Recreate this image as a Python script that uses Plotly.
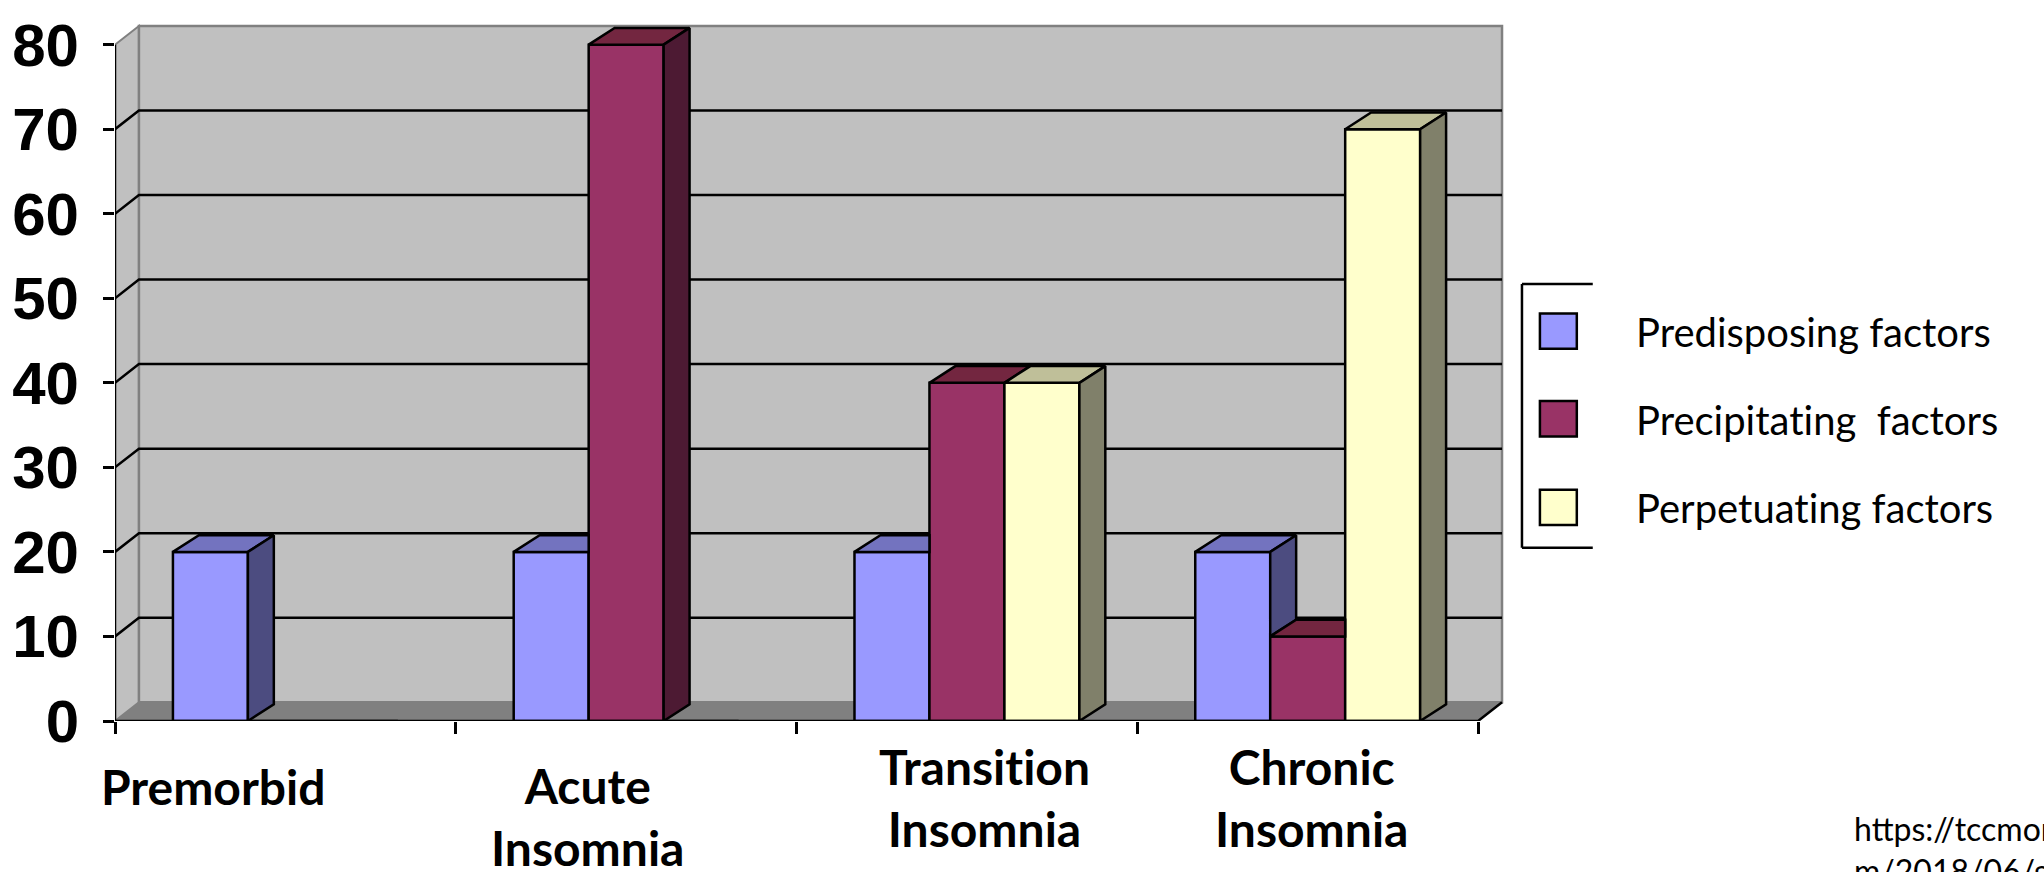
import plotly.graph_objects as go

# ---- data ----
ZWNJ = "\u200c"  # keeps the "ti" pairs from joining into a ligature
categories = ["Premorbid", "Acute<br>Insomnia", f"Transit{ZWNJ}ion<br>Insomnia", "Chronic<br>Insomnia"]
series_names = ["Predisposing factors", "Precipitat" + ZWNJ + "ing\u00a0 factors",
                "Perpetuat" + ZWNJ + "ing factors"]
predisposing = [20, 20, 20, 20]
precipitating = [0, 80, 40, 10]
perpetuating = [0, 0, 40, 70]
y_ticks = [0, 10, 20, 30, 40, 50, 60, 70, 80]

series_values = [predisposing, precipitating, perpetuating]

# ---- styling ----
front_colors = ["#9999FF", "#993366", "#FFFFCC"]
top_colors = ["#7373BF", "#732640", "#BFBF99"]
side_colors = ["#4C4C80", "#4D1A33", "#80806A"]
WALL_COLOR = "#C0C0C0"
FLOOR_COLOR = "#808080"
EDGE = 2.5

W, H = 2044, 872
PLOT_L, PLOT_R, PLOT_T, PLOT_B = 111, 1510, 12, 721   # plot-area edges in pixels
PX_PER_CAT = 341.75
PX_PER_UNIT = 8.5875
X_MAX = (PLOT_R - PLOT_L) / PX_PER_CAT
Y_MAX = (PLOT_B - PLOT_T) / PX_PER_UNIT
N_CAT = len(categories)
Y_TOP = y_ticks[-1]


def ddx(px):
    return px / PX_PER_CAT


def ddy(px):
    return px / PX_PER_UNIT


def paper_x(px):
    return (px - PLOT_L) / (PLOT_R - PLOT_L)


def paper_y(py):
    return (PLOT_B - py) / (PLOT_B - PLOT_T)


WALL_DX, WALL_DY = ddx(24), ddy(19)
BAR_DX, BAR_DY = ddx(26), ddy(17)
BAR_W = 0.22

fig = go.Figure()

# ---- front faces of the columns ----
bar_centers = []
for k, vals in enumerate(series_values):
    centers = [i + 0.5 + (k - 1) * BAR_W for i in range(N_CAT)]
    bar_centers.append(centers)
    fig.add_trace(go.Bar(
        x=centers, y=vals, width=BAR_W, name=series_names[k],
        marker=dict(color=front_colors[k], line=dict(color="black", width=EDGE)),
        showlegend=False, hoverinfo="skip",
    ))


def face(points, color):
    xs = [p[0] for p in points] + [points[0][0]]
    ys = [p[1] for p in points] + [points[0][1]]
    fig.add_trace(go.Scatter(
        x=xs, y=ys, mode="lines", fill="toself", fillcolor=color,
        line=dict(color="black", width=EDGE), showlegend=False, hoverinfo="skip",
    ))


# ---- top and side faces, left to right so nearer neighbours overlap ----
for i in range(N_CAT):
    for k, vals in enumerate(series_values):
        h = vals[i]
        if h <= 0:
            continue
        h_next = series_values[k + 1][i] if k + 1 < len(series_values) else 0
        xl = bar_centers[k][i] - BAR_W / 2
        xr = xl + BAR_W
        if h_next > h:
            top = [(xl, h), (xr, h), (xr, h + BAR_DY), (xl + BAR_DX, h + BAR_DY)]
        else:
            top = [(xl, h), (xr, h), (xr + BAR_DX, h + BAR_DY), (xl + BAR_DX, h + BAR_DY)]
        face(top, top_colors[k])
        if h_next < h:
            b = max(h_next, 0)
            side = [(xr, b), (xr, h), (xr + BAR_DX, h + BAR_DY), (xr + BAR_DX, b + BAR_DY)]
            face(side, side_colors[k])

# ---- walls, floor and gridlines ----
shapes = []
shapes.append(dict(
    type="path", xref="x", yref="y", layer="below",
    path=f"M 0,0 L 0,{Y_TOP} L {WALL_DX},{Y_TOP + WALL_DY} L {WALL_DX},{WALL_DY} Z",
    fillcolor=WALL_COLOR, line=dict(color="#808080", width=2),
))
shapes.append(dict(
    type="rect", xref="x", yref="y", layer="below",
    x0=WALL_DX, x1=N_CAT + WALL_DX, y0=WALL_DY, y1=Y_TOP + WALL_DY,
    fillcolor=WALL_COLOR, line=dict(color="#808080", width=2.5),
))
shapes.append(dict(
    type="path", xref="x", yref="y", layer="below",
    path=f"M 0,0 L {N_CAT},0 L {N_CAT + WALL_DX},{WALL_DY} L {WALL_DX},{WALL_DY} Z",
    fillcolor=FLOOR_COLOR, line=dict(width=0),
))
for v in y_ticks[1:-1]:
    shapes.append(dict(
        type="path", xref="x", yref="y", layer="below",
        path=f"M 0,{v} L {WALL_DX},{v + WALL_DY} L {N_CAT + WALL_DX},{v + WALL_DY}",
        line=dict(color="black", width=EDGE),
    ))
# value axis and front floor edge
shapes.append(dict(
    type="line", xref="x", yref="y", layer="above",
    x0=0, x1=0, y0=0, y1=Y_TOP, line=dict(color="black", width=EDGE),
))
shapes.append(dict(
    type="path", xref="x", yref="y", layer="above",
    path=f"M 0,0 L {N_CAT},0 L {N_CAT + WALL_DX},{WALL_DY}",
    line=dict(color="black", width=EDGE),
))

# ---- legend box (right side clipped) ----
LEG_L, LEG_R, LEG_T, LEG_B = 1522, 1593, 277, 545
for (x0, y0, x1, y1) in [(LEG_L, LEG_T, LEG_R, LEG_T), (LEG_L, LEG_T, LEG_L, LEG_B),
                         (LEG_L, LEG_B, LEG_R, LEG_B)]:
    shapes.append(dict(
        type="line", xref="paper", yref="paper",
        x0=paper_x(x0), x1=paper_x(x1), y0=paper_y(y0), y1=paper_y(y1),
        line=dict(color="black", width=EDGE),
    ))
legend_rows = [325, 414, 504]
annotations = []
for k, cy in enumerate(legend_rows):
    shapes.append(dict(
        type="rect", xref="paper", yref="paper",
        x0=paper_x(1540), x1=paper_x(1577), y0=paper_y(cy + 18), y1=paper_y(cy - 18),
        fillcolor=front_colors[k], line=dict(color="black", width=EDGE),
    ))
    annotations.append(dict(
        xref="paper", yref="paper", x=paper_x(1634), y=paper_y(cy + 1),
        xanchor="left", yanchor="middle", showarrow=False, text=series_names[k],
        font=dict(family="Lato", size=40, color="black"),
    ))

# ---- category labels ----
label_x = [210, 585, 983, 1311]
label_y = [788, 818, 799, 799]
for name, lx, ly in zip(categories, label_x, label_y):
    annotations.append(dict(
        xref="paper", yref="paper", x=paper_x(lx), y=paper_y(ly),
        xanchor="center", yanchor="middle", showarrow=False, text=f"<b>{name}</b>",
        font=dict(family="Lato", size=48, color="black"), align="center",
    ))

# ---- source note ----
annotations.append(dict(
    xref="paper", yref="paper", x=paper_x(1853), y=paper_y(852),
    xanchor="left", yanchor="middle", showarrow=False, align="left",
    text="https://tccmonline.co<br>m/2018/06/guide",
    font=dict(family="Lato", size=32, color="black"),
))

fig.update_layout(
    width=W, height=H, autosize=False,
    margin=dict(l=PLOT_L, r=W - PLOT_R, t=PLOT_T, b=H - PLOT_B, pad=0),
    paper_bgcolor="white", plot_bgcolor="white",
    barmode="overlay", showlegend=False,
    shapes=shapes, annotations=annotations,
    xaxis=dict(
        range=[0, X_MAX], tickvals=list(range(N_CAT + 1)), showticklabels=False,
        ticks="outside", ticklen=12, tickwidth=EDGE, tickcolor="black",
        showgrid=False, zeroline=False, showline=False, fixedrange=True,
    ),
    yaxis=dict(
        range=[0, Y_MAX], tickvals=y_ticks, ticktext=[str(t) for t in y_ticks],
        ticks="outside", ticklen=11, tickwidth=EDGE, tickcolor="black",
        tickfont=dict(family="Liberation Sans", size=60, color="black", weight="bold"),
        ticklabelstandoff=12,
        showgrid=False, zeroline=False, showline=False, fixedrange=True,
    ),
)

fig.write_html("out.html")
